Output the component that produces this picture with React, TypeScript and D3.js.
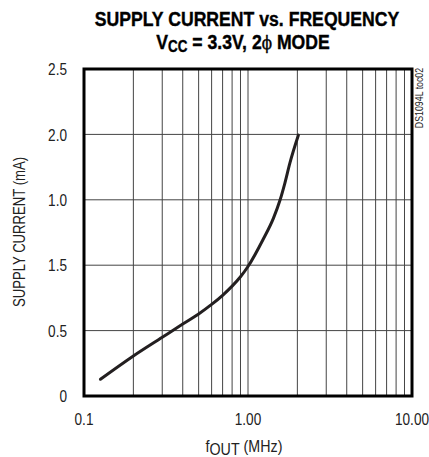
import * as d3 from "d3";
import { useEffect, useRef } from "react";

// curve (frequency in MHz, value in grid units)
const freqMHz = [0.126, 0.2, 0.3, 0.4, 0.5, 0.6, 0.7, 0.8, 0.9, 1.0, 1.24, 1.43, 1.57, 1.68, 1.8, 2.03];
const current = [0.128, 0.306, 0.449, 0.55, 0.627, 0.7, 0.77, 0.84, 0.912, 0.99, 1.2, 1.36, 1.5, 1.63, 1.78, 1.995];

// y tick positions and the labels printed at them (as in the datasheet)
const yTicks = [0, 0.5, 1, 1.5, 2, 2.5];
const yTickLabels = ["0", "0.5", "1.5", "1.0", "2.0", "2.5"];
const xTicks = [0.1, 1, 10];
const xTickLabels = ["0.1", "1.00", "10.00"];

const FONT = "'Liberation Sans', Arial, sans-serif";
const SX = 0.8; // horizontal squeeze to mimic the narrow datasheet font

const App = () => {
  const svgRef = useRef<SVGSVGElement>(null);

  useEffect(() => {
    const svg = d3.select(svgRef.current);
    svg.selectAll("*").remove();

    const margin = { top: 69, right: 17, bottom: 61, left: 84 };
    const width = 429 - margin.left - margin.right;
    const height = 457 - margin.top - margin.bottom;

    const x = d3.scaleLog().domain([0.1, 10]).range([0, width]);
    const y = d3.scaleLinear().domain([0, 2.5]).range([height, 0]);

    // narrow text helper
    const narrow = (parent: any, px: number, py: number, sx = SX, rotate = 0) =>
      parent
        .append("g")
        .attr("transform", `translate(${px},${py}) rotate(${rotate}) scale(${sx},1)`)
        .append("text")
        .style("font-family", FONT);

    // title
    narrow(svg, 247, 26, 0.84)
      .attr("text-anchor", "middle")
      .style("font-weight", "bold")
      .style("font-size", "21px")
      .style("stroke", "#000")
      .style("stroke-width", 0.4)
      .text("SUPPLY CURRENT vs. FREQUENCY");

    const sub = narrow(svg, 243, 49, 0.84)
      .attr("text-anchor", "middle")
      .style("font-weight", "bold")
      .style("font-size", "21px")
      .style("stroke", "#000")
      .style("stroke-width", 0.4);
    sub.append("tspan").text("V");
    sub.append("tspan").attr("dy", 3).style("font-size", "16px").text("CC");
    sub.append("tspan").attr("dy", -3).text(" = 3.3V, 2");
    sub
      .append("tspan")
      .style("font-weight", "normal")
      .style("font-family", "'DejaVu Serif', serif")
      .style("font-size", "18px")
      .text("\u03d5");
    sub.append("tspan").text(" MODE");

    const g = svg.append("g").attr("transform", `translate(${margin.left},${margin.top})`);

    // grid
    const minor = d3.range(2, 10).flatMap((k) => [k * 0.1, k * 1]).concat([1]);
    g.selectAll(".vgrid")
      .data(minor)
      .enter()
      .append("line")
      .attr("x1", (d) => x(d))
      .attr("x2", (d) => x(d))
      .attr("y1", 0)
      .attr("y2", height)
      .attr("stroke", "#444")
      .attr("stroke-width", 1);

    g.selectAll(".hgrid")
      .data(yTicks.slice(1, -1))
      .enter()
      .append("line")
      .attr("x1", 0)
      .attr("x2", width)
      .attr("y1", (d) => y(d))
      .attr("y2", (d) => y(d))
      .attr("stroke", "#444")
      .attr("stroke-width", 1);

    // curve
    const pts = freqMHz.map((f, i) => [f, current[i]] as [number, number]);
    g.append("path")
      .datum(pts)
      .attr("fill", "none")
      .attr("stroke", "#231f20")
      .attr("stroke-width", 3)
      .attr("stroke-linecap", "round")
      .attr(
        "d",
        d3
          .line<[number, number]>()
          .x((d) => x(d[0]))
          .y((d) => y(d[1]))
          .curve(d3.curveMonotoneX)
      );

    // frame
    g.append("rect")
      .attr("width", width)
      .attr("height", height)
      .attr("fill", "none")
      .attr("stroke", "#000")
      .attr("stroke-width", 3);

    // y tick labels
    yTicks.forEach((d, i) => {
      narrow(g, -17, y(d))
        .attr("dy", "0.36em")
        .attr("text-anchor", "end")
        .style("font-size", "17px")
        .style("fill", "#222")
        .text(yTickLabels[i]);
    });

    // x tick labels
    xTicks.forEach((d, i) => {
      narrow(g, x(d), height + 29)
        .attr("text-anchor", "middle")
        .style("font-size", "17px")
        .style("fill", "#222")
        .text(xTickLabels[i]);
    });

    // x axis title
    const xt = narrow(svg, 244, 452, 0.84)
      .attr("text-anchor", "middle")
      .style("font-size", "17px")
      .style("fill", "#222");
    xt.append("tspan").text("f");
    xt.append("tspan").attr("dy", 3).text("OUT");
    xt.append("tspan").attr("dy", -3).text("  (MHz)");

    // y axis title
    narrow(svg, 25, 232, 0.82, -90)
      .attr("text-anchor", "middle")
      .style("font-size", "16px")
      .style("fill", "#222")
      .text("SUPPLY CURRENT (mA)");

    // figure id
    narrow(svg, 423, 98, 0.8, -90)
      .attr("text-anchor", "middle")
      .style("font-size", "11px")
      .style("fill", "#222")
      .text("DS1094L toc02");
  }, []);

  return (
    <svg
      ref={svgRef}
      width={429}
      height={457}
      style={{ position: "absolute", left: 0, top: 0, background: "#fff" }}
    ></svg>
  );
};

export default App;
